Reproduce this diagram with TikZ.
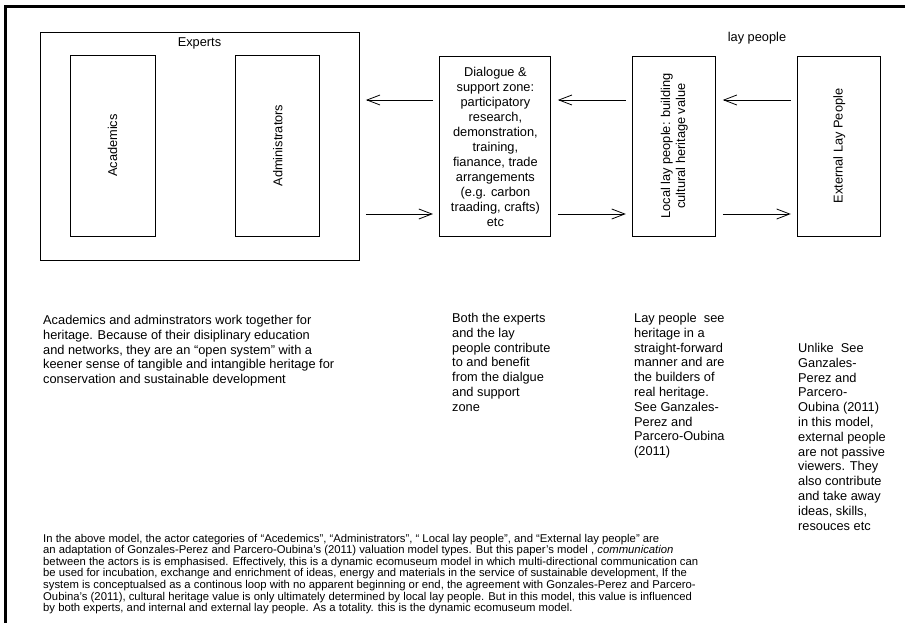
\documentclass[tikz,border=0pt]{standalone}
\usepackage{fontspec}
\setmainfont{Liberation Sans}
\usetikzlibrary{arrows.meta,positioning,calc}

\begin{document}
\begin{tikzpicture}[
			x=1pt, y=1pt,
			every node/.style={inner sep=0pt, font=\fontsize{12.8}{14.8}\selectfont},
			actorBox/.style={draw, shape=rectangle, line width=0.9pt, minimum width=84pt, minimum height=181pt},
			zoneBox/.style={draw, shape=rectangle, line width=0.9pt, minimum width=83pt, minimum height=180pt},
			flowarrow/.style={line width=0.8pt, -{Straight Barb[length=13pt,width=10pt]}, shorten <=6.5pt, shorten >=6.5pt},
			noteText/.style={align=left, anchor=north west},
			smallNote/.style={align=left, anchor=north west, font=\fontsize{11.3}{10}\selectfont}
		]

		\useasboundingbox (0,0) rectangle (905,622);
		% outer frame
		\begin{scope}
			\clip (0,0) rectangle (905,622);
			\draw[line width=2.6pt] (5.5,-5) -- (5.5,615.5) -- (912,615.5);
		\end{scope}

		% Experts
		\node[draw, line width=0.9pt, minimum width=319pt, minimum height=228pt] (experts) at (199.5,476) {};
		\node[anchor=base] (expertsLabel) at (199.5,575) {Experts};
		\node[actorBox, minimum width=85pt] (academics) at (112.5,476.5) {};
		\node[rotate=90] (academicsText) at (academics) {Academics};
		\node[actorBox, right=80pt of academics] (admin) {};
		\node[rotate=90] (adminText) at (admin) {Administrators};

		% Dialogue and lay people
		\node[zoneBox, minimum width=111pt, right=80pt of experts] (dialogue) {};
		\node[align=center, font=\fontsize{12.8}{15}\selectfont] (dialogueText) at ([yshift=-1pt]dialogue) {Dialogue \&\\ support zone:\\ participatory\\ research,\\ demonstration,\\ training,\\ fianance, trade\\ arrangements\\ (e.g. carbon\\ traading, crafts)\\ etc};
		\node[zoneBox, right=81pt of dialogue] (local) {};
		\node[rotate=90, align=center, font=\fontsize{12.8}{15}\selectfont] (localText) at (local) {Local lay people: building\\ cultural heritage value};
		\node[zoneBox, right=81pt of local] (external) {};
		\node[rotate=90] (externalText) at (external) {External Lay People};
		\node[anchor=base] (layLabel) at (757,580) {lay people};

		\draw[flowarrow] ([yshift=46pt]dialogue.west) -- ([yshift=46pt]experts.east);
		\draw[flowarrow] ([yshift=-68pt]experts.east) -- ([yshift=-68pt]dialogue.west);
		\draw[flowarrow] ([yshift=46pt]local.west) -- ([yshift=46pt]dialogue.east);
		\draw[flowarrow] ([yshift=-68pt]dialogue.east) -- ([yshift=-68pt]local.west);
		\draw[flowarrow] ([yshift=46pt]external.west) -- ([yshift=46pt]local.east);
		\draw[flowarrow] ([yshift=-68pt]local.east) -- ([yshift=-68pt]external.west);

		% notes
		\node[noteText] (expertsNote) at (43,307) {Academics and adminstrators work together for\\ heritage. Because of their disiplinary education\\ and networks, they are an “open system” with a\\ keener sense of tangible and intangible heritage for\\ conservation and sustainable development};
		\node[noteText] (dialogueNote) at (452,309) {Both the experts\\ and the lay\\ people contribute\\ to and benefit\\ from the dialgue\\ and support\\ zone};
		\node[noteText] (localNote) at (634,309) {Lay people~ see\\ heritage in a\\ straight-forward\\ manner and are\\ the builders of\\ real heritage.\\ See Ganzales-\\ Perez and\\ Parcero-Oubina\\ (2011)};
		\node[noteText] (externalNote) at (798,279) {Unlike~ See\\ Ganzales-\\ Perez and\\ Parcero-\\ Oubina (2011)\\ in this model,\\ external people\\ are not passive\\ viewers. They\\ also contribute\\ and take away\\ ideas, skills,\\ resouces etc};
		\node[smallNote] (modelNote) at (43,88) {In the above model, the actor categories of “Acedemics”, “Administrators”, “ Local lay people”, and “External lay people” are\\ an adaptation of Gonzales-Perez and Parcero-Oubina’s (2011) valuation model types. But this paper’s model , \textit{communication}\\ between the actors is is emphasised. Effectively, this is a dynamic ecomuseum model in which multi-directional communication can\\ be used for incubation, exchange and enrichment of ideas, energy and materials in the service of sustainable development, If the\\ system is conceptualsed as a continous loop with no apparent beginning or end, the agreement with Gonzales-Perez and Parcero-\\ Oubina’s (2011), cultural heritage value is only ultimately determined by local lay people. But in this model, this value is influenced\\ by both experts, and internal and external lay people. As a totality. this is the dynamic ecomuseum model.};
	\end{tikzpicture}
\end{document}
